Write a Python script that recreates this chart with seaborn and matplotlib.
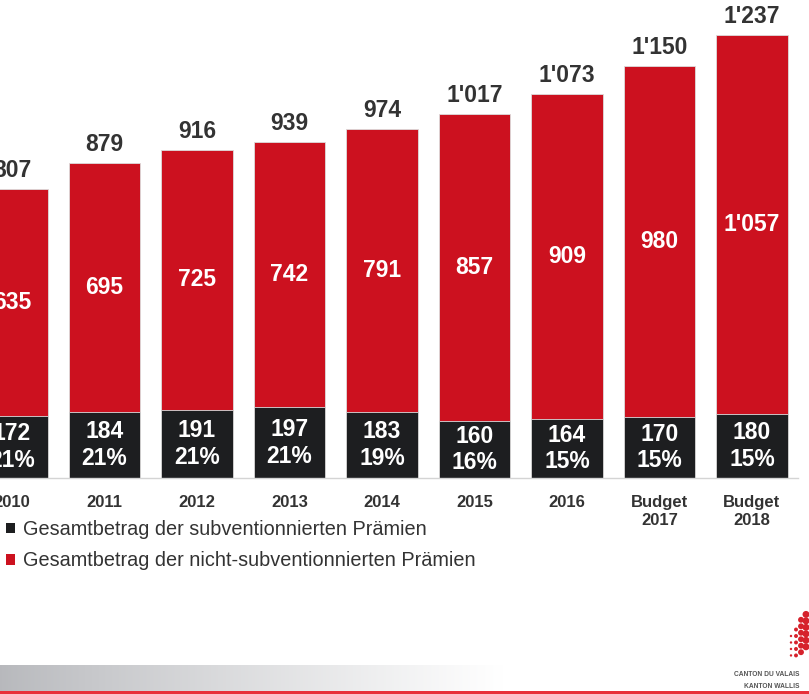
import numpy as np
import pandas as pd
import matplotlib
matplotlib.use("Agg")
import matplotlib.pyplot as plt
import seaborn as sns
from matplotlib.patches import Patch

categories = ["2010", "2011", "2012", "2013", "2014", "2015", "2016", "Budget\n2017", "Budget\n2018"]
subsidized = [172, 184, 191, 197, 183, 160, 164, 170, 180]
non_subsidized = [635, 695, 725, 742, 791, 857, 909, 980, 1057]
totals = [807, 879, 916, 939, 974, 1017, 1073, 1150, 1237]
shares = ["21%", "21%", "21%", "21%", "19%", "16%", "15%", "15%", "15%"]
legend_labels = ["Gesamtbetrag der subventionnierten Prämien",
                 "Gesamtbetrag der nicht-subventionnierten Prämien"]

RED = "#cc111f"
BLACK = "#1d1e20"
TXT = "#333333"

def fmt(v):
    return f"{v:,}".replace(",", "'")

sns.set_theme(style="white")
plt.rcParams["font.family"] = ["Liberation Sans", "DejaVu Sans"]

W, H = 809, 694
fig = plt.figure(figsize=(W / 100, H / 100), dpi=100)
fig.patch.set_facecolor("white")

base_y = 478
ax = fig.add_axes([0, 1 - base_y / H, 1, base_y / H])
df = pd.DataFrame({"cat": categories, "total": totals, "sub": subsidized,
                   "non": non_subsidized})

sns.barplot(data=df, x="cat", y="total", color=RED, width=0.77, ax=ax,
            saturation=1, edgecolor="#dcdcdc", linewidth=0.6)
sns.barplot(data=df, x="cat", y="sub", color=BLACK, width=0.77, ax=ax,
            saturation=1, edgecolor="#dcdcdc", linewidth=0.6)

for i, c in enumerate(categories):
    ax.text(i, totals[i] + 20, fmt(totals[i]), ha="center", va="bottom",
            fontsize=16.5, fontweight="bold", color=TXT)
    ax.text(i, subsidized[i] + non_subsidized[i] / 2, fmt(non_subsidized[i]),
            ha="center", va="center", fontsize=16.5, fontweight="bold", color="white")
    ax.text(i, subsidized[i] / 2, fmt(subsidized[i]) + "\n" + shares[i],
            ha="center", va="center", fontsize=16.5, fontweight="bold",
            color="white", linespacing=1.2)

for s in ["top", "right", "left"]:
    ax.spines[s].set_visible(False)
ax.spines["bottom"].set_color("#d4d4d4")
ax.spines["bottom"].set_linewidth(1)
ax.spines["bottom"].set_bounds(-0.5, 8.5)
ax.set_yticks([])
ax.set_xlabel("")
ax.set_ylabel("")
ax.set_xticks(np.arange(len(categories)))
ax.set_xticklabels(categories, fontsize=12, fontweight="bold", color=TXT,
                   linespacing=1.3)
ax.tick_params(axis="x", which="major", length=0, pad=12)
ax.set_xticks(np.arange(len(categories) + 1) - 0.5, minor=True)
ax.tick_params(axis="x", which="minor", length=5, color="#d4d4d4", width=1,
               direction="out")
ax.grid(False)

px_per_unit = 0.358
ax.set_ylim(0, base_y / px_per_unit)
x0 = -12 / 92.5
ax.set_xlim(x0, x0 + W / 92.5)

handles = [Patch(facecolor=BLACK, edgecolor="none"),
           Patch(facecolor=RED, edgecolor="none")]
fig.legend(handles, legend_labels, loc="upper left",
           bbox_to_anchor=(-0.002, 1 - 512 / H), frameon=False,
           fontsize=14.3, handlelength=0.45, handleheight=0.45,
           handletextpad=0.4, labelspacing=0.62, labelcolor=TXT,
           borderaxespad=0)

# footer gradient band
fax = fig.add_axes([0, 3 / H, 1, 26 / H])
grad = np.linspace(0, 1, 400)
r0 = np.array([0.72, 0.725, 0.74])
cols = r0[None, :] + (1 - r0[None, :]) * np.clip(grad / 0.62, 0, 1)[:, None] ** 0.9
fax.imshow(cols[None, :, :], aspect="auto", extent=[0, 1, 0, 1])
fax.axis("off")
lax = fig.add_axes([0, 0, 1, 3 / H])
lax.set_facecolor("#e8303a")
lax.set_xticks([]); lax.set_yticks([])
for s in lax.spines.values():
    s.set_visible(False)

# logo
fig.text(799 / W, 1 - 674 / H, "CANTON DU VALAIS", ha="right", va="center",
         fontsize=4.8, color="#555555", fontweight="bold")
fig.text(799 / W, 1 - 687 / H, "KANTON WALLIS", ha="right", va="center",
         fontsize=4.8, color="#555555", fontweight="bold")
gax = fig.add_axes([789 / W, 1 - 663 / H, 20 / W, 54 / H])
gx = [0.1, 0.1, 0.1, 0.1, 0.35, 0.35, 0.35, 0.35, 0.35, 0.6, 0.6, 0.6, 0.6, 0.6, 0.6, 0.85, 0.85, 0.85, 0.85, 0.85, 0.85]
gy = [0.5, 0.38, 0.26, 0.14, 0.62, 0.5, 0.38, 0.26, 0.14, 0.8, 0.68, 0.56, 0.44, 0.32, 0.2, 0.9, 0.78, 0.66, 0.54, 0.42, 0.3]
gs = [3, 3, 3, 3, 8, 8, 8, 8, 8, 18, 18, 18, 18, 18, 18, 25, 25, 25, 25, 25, 25]
gax.scatter(gx, gy, s=gs, color="#d6222c", linewidths=0)
gax.set_xlim(0, 1); gax.set_ylim(0, 1)
gax.axis("off")

fig.savefig("out.png", dpi=100, facecolor="white")
